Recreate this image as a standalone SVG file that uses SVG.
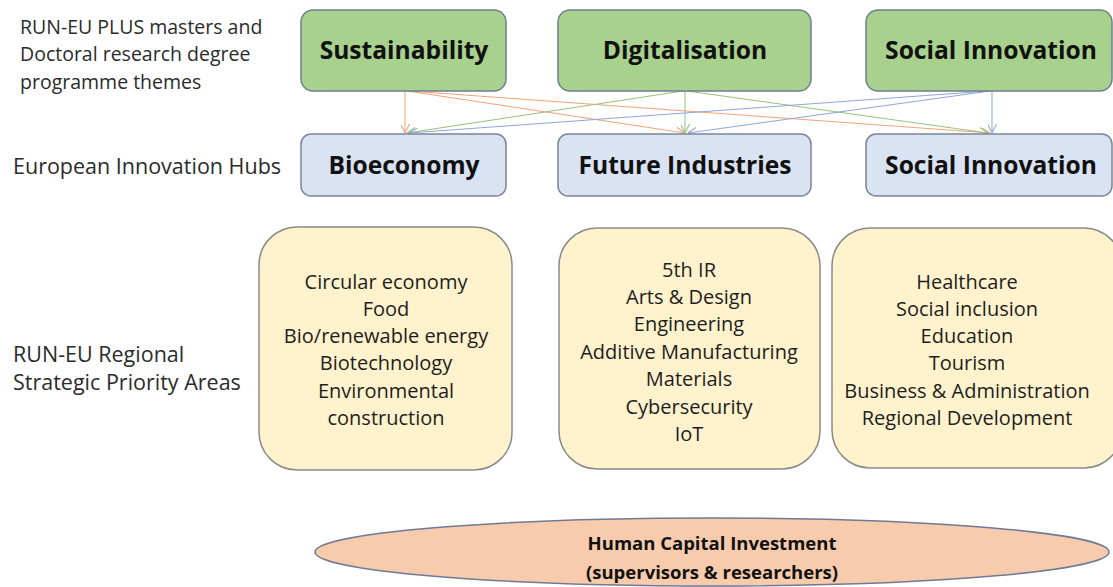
<svg xmlns="http://www.w3.org/2000/svg" width="1113" height="587" viewBox="0 0 1113 587">
<style>
.theme{fill:#a9d18e;stroke:#6e7f8e;stroke-width:1.5}
.hub{fill:#dae3f3;stroke:#7a8696;stroke-width:1.5}
.area{fill:#fff2cc;stroke:#8a8a8a;stroke-width:1.5}
.big{font-family:"Open Sans","Liberation Sans",sans-serif;font-weight:bold;font-size:24.6px;fill:#111;text-anchor:middle}
.lbl{font-family:"Open Sans","Liberation Sans",sans-serif;font-size:19.5px;fill:#2b2b2b}
.lbl2{font-family:"Open Sans","Liberation Sans",sans-serif;font-size:21.5px;fill:#2b2b2b}
.item{font-family:"Open Sans","Liberation Sans",sans-serif;font-size:20px;fill:#1e1e1e;text-anchor:middle}
.hc{font-family:"Open Sans","Liberation Sans",sans-serif;font-weight:bold;font-size:18.5px;fill:#111;text-anchor:middle}
.c{fill:none;stroke-width:1}
</style>
<defs>
<marker id="aO" viewBox="0 0 10 10" refX="10" refY="5" markerWidth="9" markerHeight="9" orient="auto" markerUnits="userSpaceOnUse"><path d="M0,0 L10,5 L0,10" fill="none" stroke="#f0a27a" stroke-width="1.2"/></marker>
<marker id="aG" viewBox="0 0 10 10" refX="10" refY="5" markerWidth="9" markerHeight="9" orient="auto" markerUnits="userSpaceOnUse"><path d="M0,0 L10,5 L0,10" fill="none" stroke="#92c47a" stroke-width="1.2"/></marker>
<marker id="aB" viewBox="0 0 10 10" refX="10" refY="5" markerWidth="9" markerHeight="9" orient="auto" markerUnits="userSpaceOnUse"><path d="M0,0 L10,5 L0,10" fill="none" stroke="#8ea6d8" stroke-width="1.2"/></marker>
</defs>
<rect width="1113" height="587" fill="#ffffff"/>

<g id="labels">
<text class="lbl" x="20" y="34">RUN-EU PLUS masters and</text>
<text class="lbl" x="20" y="61">Doctoral research degree</text>
<text class="lbl" x="20" y="89">programme themes</text>
<text class="lbl2" x="13" y="174">European Innovation Hubs</text>
<text class="lbl2" x="13" y="362">RUN-EU Regional</text>
<text class="lbl2" x="13" y="390">Strategic Priority Areas</text>
</g>

<g id="connectors">
<line class="c" stroke="#f0a27a" x1="405" y1="91" x2="405" y2="133" marker-end="url(#aO)"/>
<line class="c" stroke="#f0a27a" x1="407" y1="91" x2="685" y2="133" marker-end="url(#aO)"/>
<line class="c" stroke="#f0a27a" x1="409" y1="91" x2="990" y2="133" marker-end="url(#aO)"/>
<line class="c" stroke="#92c47a" x1="683" y1="91" x2="407" y2="133" marker-end="url(#aG)"/>
<line class="c" stroke="#92c47a" x1="685" y1="91" x2="685" y2="133" marker-end="url(#aG)"/>
<line class="c" stroke="#92c47a" x1="687" y1="91" x2="988" y2="133" marker-end="url(#aG)"/>
<line class="c" stroke="#8ea6d8" x1="988" y1="91" x2="409" y2="133" marker-end="url(#aB)"/>
<line class="c" stroke="#8ea6d8" x1="990" y1="91" x2="688" y2="133" marker-end="url(#aB)"/>
<line class="c" stroke="#8ea6d8" x1="992" y1="91" x2="992" y2="133" marker-end="url(#aB)"/>
</g>

<g id="theme-sustainability">
<rect class="theme" x="301" y="10" width="205" height="81" rx="12"/>
<text class="big" x="404" y="59">Sustainability</text>
</g>
<g id="theme-digitalisation">
<rect class="theme" x="558" y="10" width="253" height="81" rx="12"/>
<text class="big" x="685" y="59">Digitalisation</text>
</g>
<g id="theme-social-innovation">
<rect class="theme" x="866" y="10" width="246" height="81" rx="12"/>
<text class="big" x="991" y="59">Social Innovation</text>
</g>

<g id="hub-bioeconomy">
<rect class="hub" x="301" y="134" width="205" height="62" rx="10"/>
<text class="big" x="404" y="174">Bioeconomy</text>
</g>
<g id="hub-future-industries">
<rect class="hub" x="558" y="134" width="253" height="62" rx="10"/>
<text class="big" x="685" y="174">Future Industries</text>
</g>
<g id="hub-social-innovation">
<rect class="hub" x="866" y="134" width="246" height="62" rx="10"/>
<text class="big" x="991" y="174">Social Innovation</text>
</g>

<g id="area-bioeconomy">
<rect class="area" x="259" y="227" width="253" height="243" rx="38"/>
<text class="item" x="386" y="289">Circular economy</text>
<text class="item" x="386" y="316">Food</text>
<text class="item" x="386" y="343">Bio/renewable energy</text>
<text class="item" x="386" y="370">Biotechnology</text>
<text class="item" x="386" y="398">Environmental</text>
<text class="item" x="386" y="425">construction</text>
</g>
<g id="area-future-industries">
<rect class="area" x="559" y="228" width="261" height="241" rx="38"/>
<text class="item" x="689" y="277">5th IR</text>
<text class="item" x="689" y="304">Arts &amp; Design</text>
<text class="item" x="689" y="331">Engineering</text>
<text class="item" x="689" y="359">Additive Manufacturing</text>
<text class="item" x="689" y="386">Materials</text>
<text class="item" x="689" y="414">Cybersecurity</text>
<text class="item" x="689" y="441">IoT</text>
</g>
<g id="area-social-innovation">
<rect class="area" x="832" y="228" width="290" height="240" rx="38"/>
<text class="item" x="967" y="289">Healthcare</text>
<text class="item" x="967" y="316">Social inclusion</text>
<text class="item" x="967" y="343">Education</text>
<text class="item" x="967" y="370">Tourism</text>
<text class="item" x="967" y="398">Business &amp; Administration</text>
<text class="item" x="967" y="425">Regional Development</text>
</g>

<g id="human-capital">
<ellipse cx="712" cy="552" rx="397" ry="34" fill="#f8cbad" stroke="#6e7a96" stroke-width="1.5"/>
<text class="hc" x="712" y="550">Human Capital Investment</text>
<text class="hc" x="712" y="579">(supervisors &amp; researchers)</text>
</g>
</svg>
